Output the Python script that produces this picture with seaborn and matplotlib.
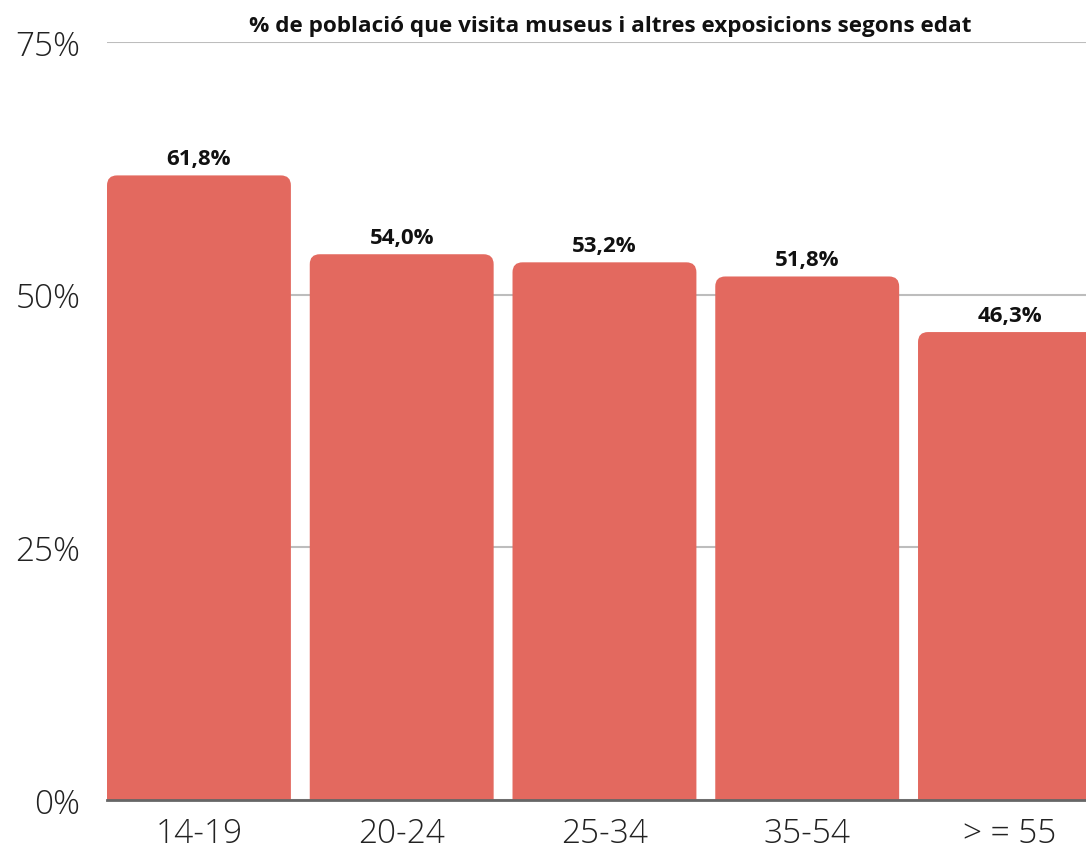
import matplotlib
matplotlib.use("Agg")
import matplotlib.pyplot as plt
from matplotlib import font_manager as fm
from matplotlib.patches import FancyBboxPatch
import seaborn as sns
import pandas as pd

# Data
age_groups = ["14-19", "20-24", "25-34", "35-54", "> = 55"]
visit_pct = [61.8, 54.0, 53.2, 51.8, 46.3]
y_ticks = [0, 25, 50, 75]
title = "% de població que visita museus i altres exposicions segons edat"

bar_color = "#E3695F"

sns.set_theme(style="white")
plt.rcParams["font.family"] = ["Open Sans", "DejaVu Sans"]


def font_file(name):
    for f in fm.fontManager.ttflist:
        if f.fname.endswith(name):
            return fm.FontProperties(fname=f.fname)
    return fm.FontProperties(family="Open Sans")


bold_fp = font_file("OpenSans-Bold.ttf")
light_fp = font_file("OpenSans-Light.ttf")

W, H, DPI = 1086, 853, 100
fig = plt.figure(figsize=(W / DPI, H / DPI), dpi=DPI)
ax_left, ax_right, ax_top, ax_bottom = 107, 1086, 43, 801
ax = fig.add_axes([ax_left / W, (H - ax_bottom) / H,
                   (ax_right - ax_left) / W, (ax_bottom - ax_top) / H])

df = pd.DataFrame({"group": age_groups, "pct": visit_pct})
bar_width = 0.907
sns.barplot(data=df, x="group", y="pct", color=bar_color, width=bar_width,
            saturation=1, ax=ax, zorder=3)

ax.set_ylim(0, 75)
ax.set_xlim(-bar_width / 2, 4.375)

# Replace plain bars with top-rounded ones
ax_w_px = ax_right - ax_left
ax_h_px = ax_bottom - ax_top
x_per_px = (4.375 + bar_width / 2) / ax_w_px
y_per_px = 75 / ax_h_px
radius_px = 10
for patch in list(ax.patches):
    x0, y0 = patch.get_x(), patch.get_y()
    w, h = patch.get_width(), patch.get_height()
    patch.set_visible(False)
    extra = 3 * radius_px * y_per_px
    rounded = FancyBboxPatch(
        (x0, y0 - extra), w, h + extra,
        boxstyle=f"round,pad=0,rounding_size={radius_px * x_per_px}",
        mutation_aspect=y_per_px / x_per_px,
        facecolor=bar_color, edgecolor="none", zorder=3)
    ax.add_patch(rounded)

# Value labels
for i, v in enumerate(visit_pct):
    ax.text(i, v + 11 * y_per_px, f"{v:.1f}%".replace(".", ","),
            ha="center", va="baseline", fontproperties=bold_fp,
            fontsize=16, color="#111111", zorder=4)

ax.set_yticks(y_ticks)
ax.set_yticklabels([f"{t}%" for t in y_ticks])
ax.tick_params(axis="y", length=0, pad=19, labelcolor="#222222")
ax.tick_params(axis="x", length=0, pad=12, labelcolor="#222222")
for lbl in ax.get_yticklabels() + ax.get_xticklabels():
    lbl.set_fontproperties(light_fp)
    lbl.set_fontsize(24)
ax.set_xlabel("")
ax.set_ylabel("")

ax.grid(axis="y", color="#BDBDBD", linewidth=1.5, zorder=0)
ax.grid(axis="x", visible=False)
for s in ["top", "right", "left"]:
    ax.spines[s].set_visible(False)
ax.spines["bottom"].set_color("#666666")
ax.spines["bottom"].set_linewidth(2)
ax.spines["bottom"].set_zorder(5)

fig.text(610 / W, 1 - 32 / H, title, ha="center", va="baseline",
         fontproperties=bold_fp, fontsize=16.2, color="#111111")

fig.savefig("out.png", dpi=DPI)
